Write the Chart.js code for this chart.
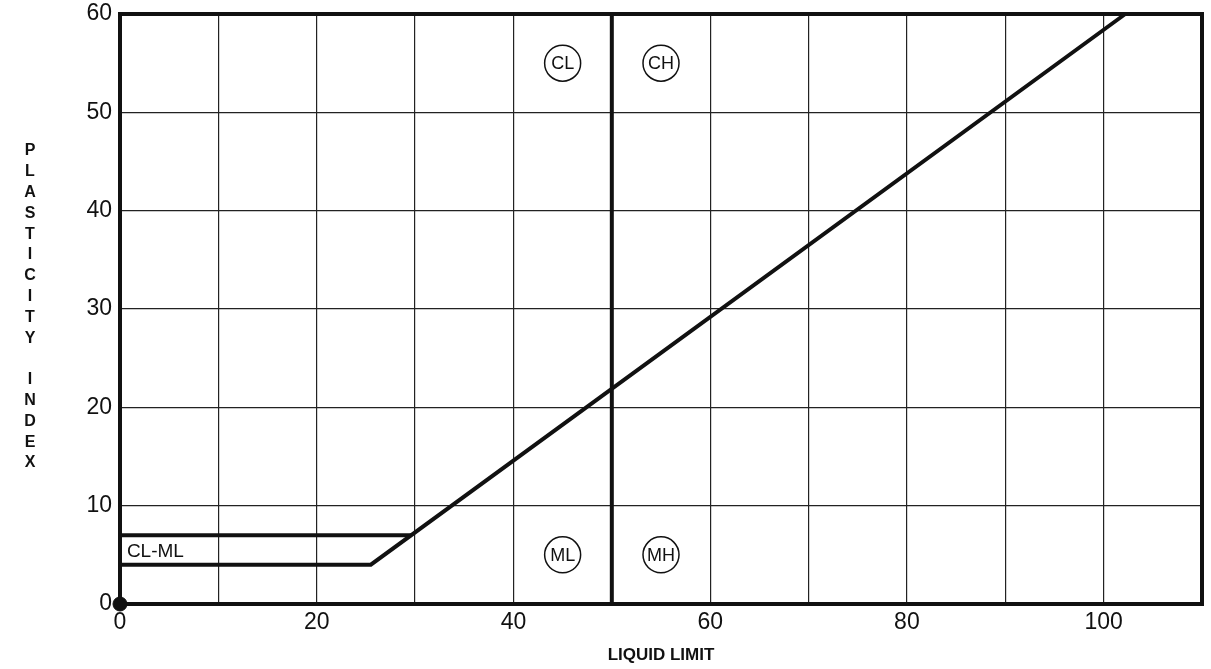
<!DOCTYPE html>
<html>
<head>
<meta charset="utf-8">
<script src="https://cdn.jsdelivr.net/npm/chart.js@4/dist/chart.umd.min.js"></script>
<style>
  body { margin: 0; background: #fff; }
  #chart { display: block; }
</style>
</head>
<body>
<canvas id="chart" width="1211" height="669"></canvas>
<script>
// axis ranges
const xMin = 0, xMax = 110;
const yMin = 0, yMax = 60;

// A-line (with CL-ML lower bound) and the CL-ML upper bound
const aLineX = [0, 25.5, 102.2];
const aLineY = [4, 4, 60];
const clmlTopX = [0, 29.6];
const clmlTopY = [7, 7];
// LL = 50 divider
const dividerX = [50, 50];
const dividerY = [0, 60];

// circled zone labels
const zoneLabels = ['CL', 'CH', 'ML', 'MH'];
const zoneX = [45, 55, 45, 55];
const zoneY = [55, 55, 5, 5];

const pairs = (xs, ys) => xs.map((x, i) => ({ x: x, y: ys[i] }));

const ink = '#111';
const font = '"Liberation Sans", Arial, sans-serif';

// frame, zone text, axis titles
const decor = {
  id: 'decor',
  beforeDatasetsDraw(chart) {
    const { ctx, chartArea: a } = chart;
    ctx.save();
    ctx.strokeStyle = ink;
    ctx.lineWidth = 4;
    ctx.strokeRect(a.left, a.top, a.right - a.left, a.bottom - a.top);
    ctx.restore();
  },
  afterDatasetsDraw(chart) {
    const { ctx, scales } = chart;
    ctx.save();
    ctx.fillStyle = ink;
    ctx.textAlign = 'center';
    ctx.textBaseline = 'middle';
    ctx.font = '18px ' + font;
    zoneLabels.forEach((t, i) => {
      ctx.fillText(t, scales.x.getPixelForValue(zoneX[i]), scales.y.getPixelForValue(zoneY[i]) + 1);
    });

    ctx.textAlign = 'left';
    ctx.font = '19px ' + font;
    ctx.fillText('CL-ML', scales.x.getPixelForValue(0.7), scales.y.getPixelForValue(5.3));

    ctx.textAlign = 'center';
    ctx.font = 'bold 17px ' + font;
    ctx.fillText('LIQUID LIMIT', (chart.chartArea.left + chart.chartArea.right) / 2, 655);

    ctx.font = 'bold 16px ' + font;
    const title = 'PLASTICITY INDEX';
    for (let i = 0; i < title.length; i++) {
      ctx.fillText(title[i], 30, 151 + i * 20.8);
    }
    ctx.restore();
  }
};

const lineStyle = {
  showLine: true,
  pointRadius: 0,
  borderWidth: 4,
  borderColor: ink,
  clip: false
};

new Chart(document.getElementById('chart'), {
  type: 'scatter',
  data: {
    datasets: [
      Object.assign({ data: pairs(aLineX, aLineY) }, lineStyle),
      Object.assign({ data: pairs(clmlTopX, clmlTopY) }, lineStyle),
      Object.assign({ data: pairs(dividerX, dividerY) }, lineStyle),
      {
        data: pairs(zoneX, zoneY),
        pointRadius: 18,
        pointBackgroundColor: '#fff',
        pointBorderColor: ink,
        pointBorderWidth: 1.5,
        clip: false
      },
      {
        data: [{ x: 0, y: 0 }],
        pointRadius: 7,
        pointBackgroundColor: ink,
        pointBorderColor: ink,
        clip: false
      }
    ]
  },
  options: {
    responsive: false,
    animation: false,
    layout: { autoPadding: false, padding: { top: 14, right: 9, left: 0, bottom: 0 } },
    plugins: { legend: { display: false }, tooltip: { enabled: false } },
    scales: {
      x: {
        type: 'linear',
        min: xMin,
        max: xMax,
        afterFit(scale) {
          scale.height = 65;
          scale.paddingLeft = 0;
          scale.paddingRight = 0;
        },
        border: { display: false },
        grid: { color: '#222', lineWidth: 1.2, drawTicks: false },
        ticks: {
          stepSize: 10,
          padding: 5,
          color: ink,
          font: { family: font, size: 23 },
          maxRotation: 0,
          autoSkip: false,
          callback: v => (v % 20 === 0 ? v : '')
        }
      },
      y: {
        type: 'linear',
        min: yMin,
        max: yMax,
        afterFit(scale) {
          scale.width = 120;
          scale.paddingTop = 0;
          scale.paddingBottom = 0;
        },
        border: { display: false },
        grid: { color: '#222', lineWidth: 1.2, drawTicks: false },
        ticks: {
          stepSize: 10,
          padding: 8,
          color: ink,
          font: { family: font, size: 23 }
        }
      }
    }
  },
  plugins: [decor]
});
</script>
</body>
</html>
